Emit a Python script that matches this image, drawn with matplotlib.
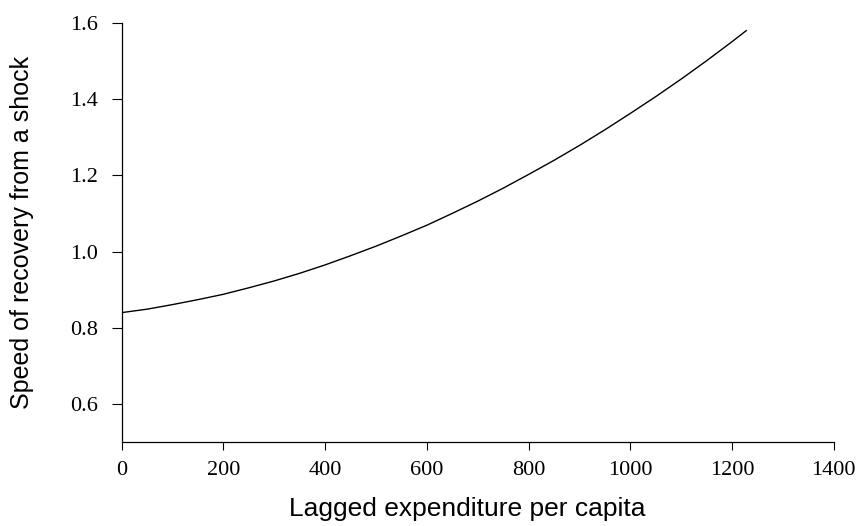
import matplotlib
matplotlib.use("Agg")
import matplotlib.pyplot as plt
import numpy as np

# values
expenditure = [0, 50, 100, 150, 200, 250, 300, 350, 400, 450, 500, 550, 600,
               650, 700, 750, 800, 850, 900, 950, 1000, 1050, 1100, 1150,
               1200, 1228]
recovery = [0.840, 0.849, 0.861, 0.874, 0.888, 0.905, 0.923, 0.943, 0.965,
            0.989, 1.014, 1.041, 1.069, 1.100, 1.132, 1.166, 1.202, 1.239,
            1.278, 1.319, 1.362, 1.406, 1.452, 1.500, 1.550, 1.579]

x_ticks = [0, 200, 400, 600, 800, 1000, 1200, 1400]
y_ticks = [0.6, 0.8, 1.0, 1.2, 1.4, 1.6]

fig = plt.figure(figsize=(8.56, 5.26), dpi=100)
ax = fig.add_axes([0.142, 0.159, 0.832, 0.798])

ax.plot(expenditure, recovery, color="black", lw=1.0)

ax.set_xlim(0, 1400)
ax.set_ylim(0.5, 1.6)
ax.set_xticks(x_ticks)
ax.set_yticks(y_ticks)
ax.set_yticklabels([f"{v:.1f}" for v in y_ticks])

for s in ["top", "right"]:
    ax.spines[s].set_visible(False)
for s in ["left", "bottom"]:
    ax.spines[s].set_linewidth(0.9)
    ax.spines[s].set_color("black")

ax.tick_params(axis="x", direction="out", length=5.5, width=0.8, pad=8)
ax.tick_params(axis="y", direction="out", length=7, width=0.8, pad=10)
for lab in ax.get_xticklabels() + ax.get_yticklabels():
    lab.set_fontfamily("Liberation Serif")
    lab.set_fontsize(16)

ax.set_xlabel("Lagged expenditure per capita", family="Liberation Sans",
              fontsize=19, labelpad=12)
ax.set_ylabel("Speed of recovery from a shock", family="Liberation Sans",
              fontsize=18, labelpad=26)
# the x title sits a little left of the axis centre in the original
ax.xaxis.label.set_x(0.486)

fig.savefig("out.png", dpi=100)
